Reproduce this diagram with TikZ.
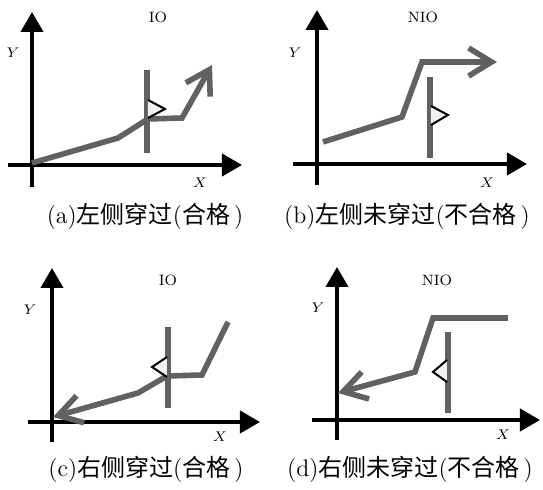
\documentclass[tikz,border=0pt]{standalone}
\usepackage{fontspec}
\newfontfamily\cjk{Noto Sans CJK SC}
\usetikzlibrary{arrows.meta}

\begin{document}
\begin{tikzpicture}[x=0.5pt, y=-0.5pt,
    axis/.style={line width=2pt, -{Triangle[length=10pt, width=11pt]}},
    track/.style={draw=black!62, line width=2.8pt},
    trackarrow/.style={track, -{Straight Barb[length=11.5pt, width=14pt]}},
    gate/.style={draw=black!62, line width=2.6pt},
    flag/.style={draw=black, line width=1pt, fill=gray!12, line join=miter},
    lbl/.style={font=\fontsize{7.5}{8}\selectfont, inner sep=0pt},
    subcap/.style={font=\fontsize{12}{14}\selectfont, inner sep=0pt}]
    \useasboundingbox (0,0) rectangle (543,490);

    % axes of the four panels
    \foreach \ox/\oy/\xl/\xr/\yt/\yb in {32/165/8/242/12/187, 317/164/293/527/10/185,
                                         52/422/28/260/268/442, 337/420/312/540/267/440}
    {
        \draw[axis] (\xl,\oy) -- (\xr,\oy);
        \draw[axis] (\ox,\yb) -- (\ox,\yt);
    }

    % (a) left side, passed
    \draw[trackarrow] (32,163) -- (118,138) -- (148,119) -- (182,118) -- (212,65);
    \draw[gate] (147,70) -- (147,153);
    \draw[flag] (148,100) -- (165,109) -- (148,118);
    \node[lbl] (ioa) at (158,17) {IO};
    \node[lbl] (ya) at (13,53) {$Y$};
    \node[lbl] (xa) at (200,183) {$X$};
    \node[subcap] (capa) at (145,216) {(a){\cjk 左侧穿过}({\cjk 合格}\,)};

    % (b) left side, not passed
    \draw[trackarrow] (323,142) -- (402,117) -- (422,62) -- (497,62);
    \draw[gate] (430,77) -- (430,158);
    \draw[flag] (431,106) -- (448,115) -- (431,125);
    \node[lbl] (niob) at (423,17) {NIO};
    \node[lbl] (yb) at (295,53) {$Y$};
    \node[lbl] (xb) at (487,183) {$X$};
    \node[subcap] (capb) at (407,216) {(b){\cjk 左侧未穿过}({\cjk 不合格}\,)};

    % (c) right side, passed
    \draw[trackarrow] (228,322) -- (202,375) -- (167,376) -- (138,393) -- (53,417);
    \draw[gate] (168,327) -- (168,408);
    \draw[flag] (167,357) -- (152,367) -- (167,377);
    \node[lbl] (ioc) at (168,280) {IO};
    \node[lbl] (yc) at (30,310) {$Y$};
    \node[lbl] (xc) at (220,437) {$X$};
    \node[subcap] (capc) at (146,469) {(c){\cjk 右侧穿过}({\cjk 合格}\,)};

    % (d) right side, not passed
    \draw[trackarrow] (508,318) -- (433,318) -- (415,372) -- (338,393);
    \draw[gate] (448,332) -- (448,413);
    \draw[flag] (447,360) -- (433,372) -- (447,382);
    \node[lbl] (niod) at (437,280) {NIO};
    \node[lbl] (yd) at (318,308) {$Y$};
    \node[lbl] (xd) at (503,435) {$X$};
    \node[subcap] (capd) at (410,469) {(d){\cjk 右侧未穿过}({\cjk 不合格}\,)};
\end{tikzpicture}
\end{document}
